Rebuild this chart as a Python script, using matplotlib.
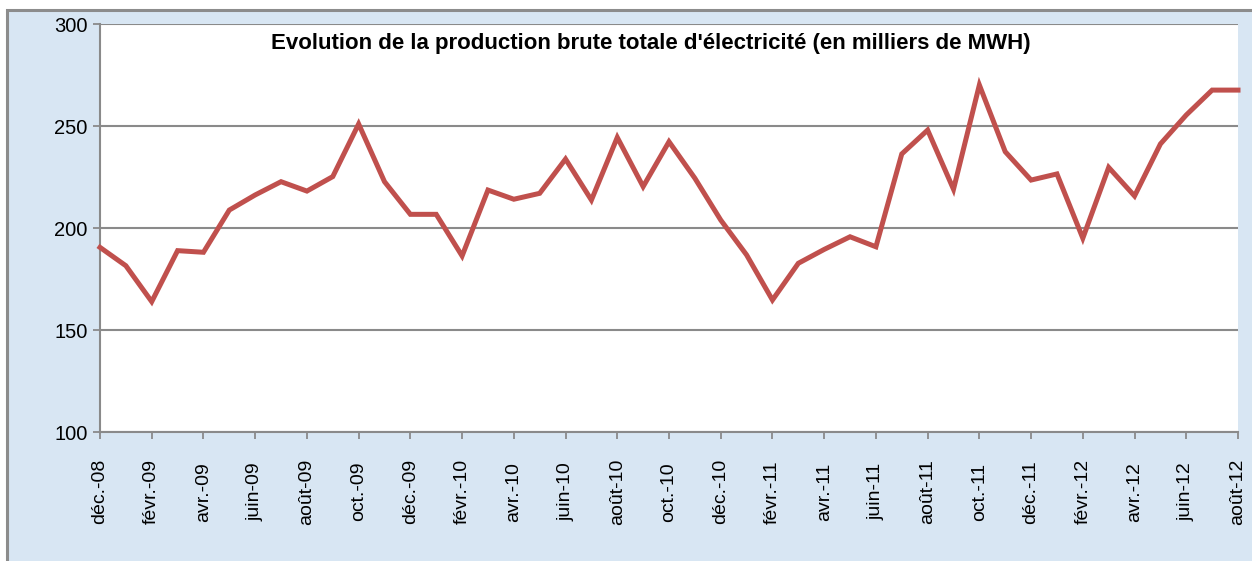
import matplotlib
matplotlib.use("Agg")
import matplotlib.pyplot as plt
from matplotlib.patches import Rectangle

months = ["déc.-08", "janv.-09", "févr.-09", "mars-09", "avr.-09", "mai-09", "juin-09", "juil.-09",
          "août-09", "sept.-09", "oct.-09", "nov.-09", "déc.-09", "janv.-10", "févr.-10", "mars-10",
          "avr.-10", "mai-10", "juin-10", "juil.-10", "août-10", "sept.-10", "oct.-10", "nov.-10",
          "déc.-10", "janv.-11", "févr.-11", "mars-11", "avr.-11", "mai-11", "juin-11", "juil.-11",
          "août-11", "sept.-11", "oct.-11", "nov.-11", "déc.-11", "janv.-12", "févr.-12", "mars-12",
          "avr.-12", "mai-12", "juin-12", "juil.-12", "août-12"]
production = [190.5, 181.5, 163.9, 188.9, 188.1, 208.8, 216.2, 222.7, 218.1, 225.2,
              251.0, 222.7, 206.7, 206.7, 186.3, 218.6, 214.1, 217.0, 233.8, 213.7,
              244.4, 220.3, 242.3, 224.4, 203.9, 186.8, 164.7, 182.7, 189.5, 195.7,
              190.8, 236.3, 248.0, 219.0, 270.1, 237.4, 223.5, 226.5, 195.0, 229.7,
              215.7, 241.2, 255.4, 267.6, 267.6]
yticks = [100, 150, 200, 250, 300]
title = "Evolution de la production brute totale d'électricité (en milliers de MWH)"

W, H = 1252, 561
fig = plt.figure(figsize=(W / 100, H / 100), dpi=100)
fig.patch.set_facecolor("white")
bg = Rectangle((7 / W, -0.1), 1.2, 1.1 - 10 / H, transform=fig.transFigure,
               facecolor="#d8e6f3", edgecolor="#8c8c8c", linewidth=2.2, zorder=-10)
fig.patches.append(bg)

ax = fig.add_axes([100 / W, 1 - 432 / H, (1238 - 100) / W, (432 - 24) / H])
ax.set_facecolor("white")
x = list(range(len(months)))
ax.plot(x, production, color="#c0504d", linewidth=3.6, solid_joinstyle="miter", zorder=3,
        clip_on=False)
ax.set_xlim(0, len(months) - 1)
ax.set_ylim(100, 300)
ax.set_yticks(yticks)
ax.set_yticklabels([str(v) for v in yticks], fontsize=14.5, family="Liberation Sans")
ax.yaxis.grid(True, color="#8a8a8a", linewidth=1.5)
ax.set_axisbelow(True)
ax.set_xticks(x[::2])
ax.set_xticklabels(months[::2], rotation=90, fontsize=14, family="Liberation Sans", va="center")
ax.tick_params(axis="x", length=5, width=1.3, color="#8a8a8a", pad=38)
ax.tick_params(axis="y", length=5, width=1.3, color="#8a8a8a", pad=4)
for s in ["top", "right"]:
    ax.spines[s].set_visible(False)
for s in ["left", "bottom"]:
    ax.spines[s].set_color("#8a8a8a")
    ax.spines[s].set_linewidth(1.5)

fig.text(651 / W, 1 - 44 / H, title, ha="center", va="center", fontsize=16,
         fontweight="bold", family="Liberation Sans")

fig.savefig("out.png", dpi=100)
